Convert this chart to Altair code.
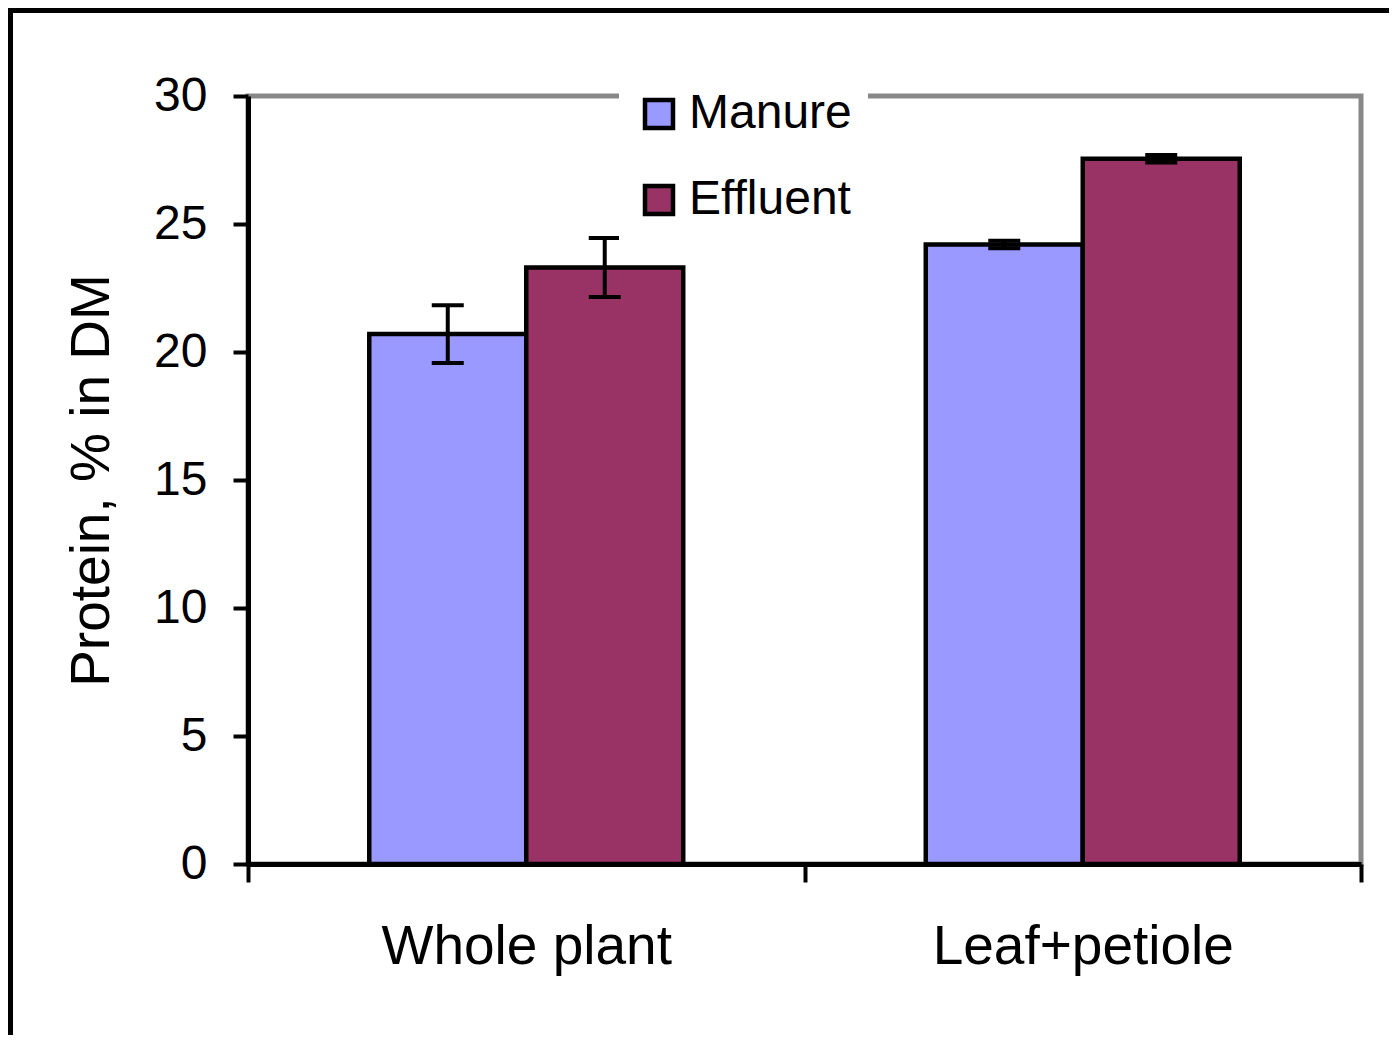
import altair as alt
import pandas as pd

categories = ["Whole plant", "Leaf+petiole"]
series = ["Manure", "Effluent"]
manure = [20.7, 24.2]
effluent = [23.3, 27.55]
manure_err = [1.13, 0.15]
effluent_err = [1.15, 0.15]
colors = ["#9999FF", "#993366"]
y_ticks = [0, 5, 10, 15, 20, 25, 30]

rows = []
for i, c in enumerate(categories):
    rows.append({"category": c, "series": "Manure", "value": manure[i],
                 "lo": manure[i] - manure_err[i], "hi": manure[i] + manure_err[i]})
    rows.append({"category": c, "series": "Effluent", "value": effluent[i],
                 "lo": effluent[i] - effluent_err[i], "hi": effluent[i] + effluent_err[i]})
df = pd.DataFrame(rows)

FONT = "Liberation Sans"

x_enc = alt.X(
    "category:N", sort=categories, title=None,
    scale=alt.Scale(paddingInner=0, paddingOuter=0),
    axis=alt.Axis(labelAngle=0, labelFontSize=55, labelFont=FONT, labelColor="black",
                  labelPadding=38, labelLimit=0, tickBand="extent", tickSize=18, tickWidth=4,
                  tickColor="black", domainColor="black", domainWidth=5, grid=False),
)
xo_enc = alt.XOffset("series:N", sort=series,
                     scale=alt.Scale(paddingInner=0, paddingOuter=0.7725))
y_scale = alt.Scale(domain=[0, 30], nice=False)

base = alt.Chart(df).encode(x=x_enc, xOffset=xo_enc)

bars = base.mark_bar(stroke="black", strokeWidth=4.5).encode(
    y=alt.Y("value:Q", scale=y_scale,
            axis=alt.Axis(values=y_ticks, labelFontSize=48, labelFont=FONT,
                          labelColor="black", labelPadding=26, tickSize=15, tickWidth=4,
                          tickColor="black", domainColor="black", domainWidth=5,
                          grid=False, title="Protein, % in DM", titleFont=FONT,
                          titleFontSize=55, titleFontWeight="normal", titleColor="black",
                          titleX=-157, titleY=384, titleAlign="center",
                          titleBaseline="middle", titleAngle=270)),
    color=alt.Color("series:N", sort=series,
                    scale=alt.Scale(domain=series, range=colors),
                    legend=alt.Legend(title=None, orient="none", legendX=371, legendY=-22,
                                      fillColor="white", padding=16,
                                      labelFontSize=48, labelFont=FONT, labelColor="black",
                                      labelLimit=0,
                                      symbolType="square", symbolSize=784,
                                      symbolStrokeColor="black", symbolStrokeWidth=4.5,
                                      rowPadding=38, labelOffset=6)),
)

stems = base.mark_rule(color="black", strokeWidth=4, opacity=1).encode(
    y=alt.Y("lo:Q", scale=y_scale), y2="hi:Q")
caps_lo = base.mark_tick(color="black", thickness=4, size=32, opacity=1).encode(
    y=alt.Y("lo:Q", scale=y_scale))
caps_hi = base.mark_tick(color="black", thickness=4, size=32, opacity=1).encode(
    y=alt.Y("hi:Q", scale=y_scale))

frame_data = alt.Data(values=[{"k": 1}])
frame_left = alt.Chart(frame_data).mark_rule(color="black", strokeWidth=5).encode(
    x=alt.value(-237.5), y=alt.value(-88), y2=alt.value(960))
frame_top = alt.Chart(frame_data).mark_rule(color="black", strokeWidth=5).encode(
    x=alt.value(-240), x2=alt.value(1160), y=alt.value(-85.5))

chart = alt.layer(bars, stems, caps_lo, caps_hi, frame_left, frame_top).properties(
    width=1113, height=768,
    autosize=alt.AutoSizeParams(type="none"),
    padding={"left": 240, "top": 88, "right": 28, "bottom": 171},
    background="white",
).configure_view(stroke="#888888", strokeWidth=5)

chart.save("out.html", embed_options={"renderer": "svg", "actions": False})
